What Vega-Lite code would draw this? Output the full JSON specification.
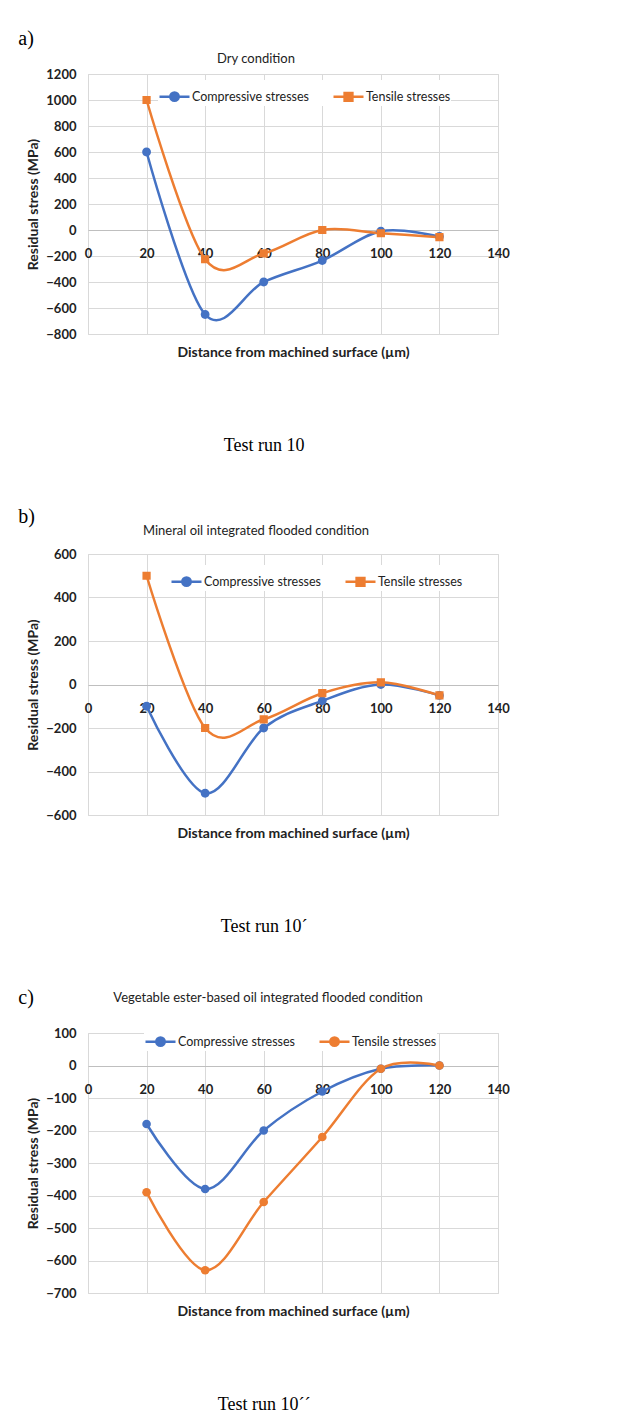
{
  "$schema": "https://vega.github.io/schema/vega-lite/v6.json",
  "padding": {"top": 28, "left": 18, "right": 0, "bottom": 0},
  "background": "white",
  "spacing": 51,
  "resolve": {"scale": {"color": "independent", "shape": "independent"}},
  "datasets": {
    "a": [
      {"d": 20, "v": 600, "s": "Compressive stresses"},
      {"d": 40, "v": -650, "s": "Compressive stresses"},
      {"d": 60, "v": -400, "s": "Compressive stresses"},
      {"d": 80, "v": -235, "s": "Compressive stresses"},
      {"d": 100, "v": -10, "s": "Compressive stresses"},
      {"d": 120, "v": -50, "s": "Compressive stresses"},
      {"d": 20, "v": 1000, "s": "Tensile stresses"},
      {"d": 40, "v": -225, "s": "Tensile stresses"},
      {"d": 60, "v": -180, "s": "Tensile stresses"},
      {"d": 80, "v": 0, "s": "Tensile stresses"},
      {"d": 100, "v": -25, "s": "Tensile stresses"},
      {"d": 120, "v": -55, "s": "Tensile stresses"}
    ],
    "b": [
      {"d": 20, "v": -100, "s": "Compressive stresses"},
      {"d": 40, "v": -500, "s": "Compressive stresses"},
      {"d": 60, "v": -200, "s": "Compressive stresses"},
      {"d": 80, "v": -75, "s": "Compressive stresses"},
      {"d": 100, "v": 0, "s": "Compressive stresses"},
      {"d": 120, "v": -50, "s": "Compressive stresses"},
      {"d": 20, "v": 500, "s": "Tensile stresses"},
      {"d": 40, "v": -200, "s": "Tensile stresses"},
      {"d": 60, "v": -160, "s": "Tensile stresses"},
      {"d": 80, "v": -40, "s": "Tensile stresses"},
      {"d": 100, "v": 10, "s": "Tensile stresses"},
      {"d": 120, "v": -50, "s": "Tensile stresses"}
    ],
    "c": [
      {"d": 20, "v": -180, "s": "Compressive stresses"},
      {"d": 40, "v": -380, "s": "Compressive stresses"},
      {"d": 60, "v": -200, "s": "Compressive stresses"},
      {"d": 80, "v": -80, "s": "Compressive stresses"},
      {"d": 100, "v": -10, "s": "Compressive stresses"},
      {"d": 120, "v": 0, "s": "Compressive stresses"},
      {"d": 20, "v": -390, "s": "Tensile stresses"},
      {"d": 40, "v": -630, "s": "Tensile stresses"},
      {"d": 60, "v": -420, "s": "Tensile stresses"},
      {"d": 80, "v": -220, "s": "Tensile stresses"},
      {"d": 100, "v": -10, "s": "Tensile stresses"},
      {"d": 120, "v": 0, "s": "Tensile stresses"}
    ]
  },
  "vconcat": [
    {
      "title": {"text": "Test run 10", "orient": "bottom", "anchor": "middle", "font": "Liberation Serif", "fontSize": 18, "fontWeight": "normal", "color": "black", "offset": 77},
      "vconcat": [
        {
          "title": {"text": "a)", "anchor": "start", "font": "Liberation Serif", "fontSize": 20, "fontWeight": "normal", "color": "black", "dx": -8, "offset": 4},
          "vconcat": [
            {
              "width": 410, "height": 260,
              "title": {"text": "Dry condition", "font": "Lato", "fontSize": 13, "fontWeight": "normal", "color": "#222", "dx": -37, "offset": 2},
              "data": {"name": "a"},
              "encoding": {
                "x": {"field": "d", "type": "quantitative", "scale": {"domain": [0, 140], "nice": false},
                      "axis": {"values": [0, 20, 40, 60, 80, 100, 120, 140], "title": "Distance from  machined surface (µm)", "labelPadding": -87, "titleY": 18, "titleBaseline": "middle"}},
                "y": {"field": "v", "type": "quantitative", "scale": {"domain": [-800, 1200], "nice": false},
                      "axis": {"values": [-800, -600, -400, -200, 0, 200, 400, 600, 800, 1000, 1200], "format": "d", "title": "Residual stress (MPa)", "labelPadding": 12, "titlePadding": 5,
                               "gridColor": {"condition": {"test": "datum.value === 0", "value": "#bfbfbf"}, "value": "#d9d9d9"}}},
                "color": {"field": "s", "type": "nominal", "scale": {"domain": ["Compressive stresses", "Tensile stresses"], "range": ["#4472C4", "#ED7D31"]},
                          "legend": {"orient": "none", "legendX": 70, "legendY": 6, "direction": "horizontal", "title": null, "fillColor": "white", "labelFont": "Lato", "labelFontSize": 12.5, "labelColor": "#222", "symbolSize": 900, "symbolStrokeWidth": 2.5, "labelOffset": 1, "columnPadding": 18}}
              },
              "layer": [
                {"mark": {"type": "line", "interpolate": "cardinal", "strokeWidth": 2.5}},
                {"mark": {"type": "point", "filled": true, "opacity": 1, "size": 1000},
                 "encoding": {"shape": {"field": "s", "type": "nominal", "scale": {"domain": ["Compressive stresses", "Tensile stresses"], "range": ["M-1,0L1,0M-0.28,0A0.28,0.28,0,1,1,0.28,0A0.28,0.28,0,1,1,-0.28,0Z", "M-1,0L1,0M-0.26,-0.26L0.26,-0.26L0.26,0.26L-0.26,0.26Z"]}, "legend": null}}}
              ]
            }
          ]
        }
      ]
    },
    {
      "title": {"text": "Test run 10´", "orient": "bottom", "anchor": "middle", "font": "Liberation Serif", "fontSize": 18, "fontWeight": "normal", "color": "black", "offset": 77},
      "vconcat": [
        {
          "title": {"text": "b)", "anchor": "start", "font": "Liberation Serif", "fontSize": 20, "fontWeight": "normal", "color": "black", "dx": -8, "offset": -2},
          "vconcat": [
            {
              "width": 410, "height": 261,
              "title": {"text": "Mineral oil integrated flooded condition", "font": "Lato", "fontSize": 13, "fontWeight": "normal", "color": "#222", "dx": -37, "offset": 10},
              "data": {"name": "b"},
              "encoding": {
                "x": {"field": "d", "type": "quantitative", "scale": {"domain": [0, 140], "nice": false},
                      "axis": {"values": [0, 20, 40, 60, 80, 100, 120, 140], "title": "Distance from  machined surface (µm)", "labelPadding": -113, "titleY": 18, "titleBaseline": "middle"}},
                "y": {"field": "v", "type": "quantitative", "scale": {"domain": [-600, 600], "nice": false},
                      "axis": {"values": [-600, -400, -200, 0, 200, 400, 600], "format": "d", "title": "Residual stress (MPa)", "labelPadding": 12, "titlePadding": 5,
                               "gridColor": {"condition": {"test": "datum.value === 0", "value": "#bfbfbf"}, "value": "#d9d9d9"}}},
                "color": {"field": "s", "type": "nominal", "scale": {"domain": ["Compressive stresses", "Tensile stresses"], "range": ["#4472C4", "#ED7D31"]},
                          "legend": {"orient": "none", "legendX": 82, "legendY": 11, "direction": "horizontal", "title": null, "fillColor": "white", "labelFont": "Lato", "labelFontSize": 12.5, "labelColor": "#222", "symbolSize": 900, "symbolStrokeWidth": 2.5, "labelOffset": 1, "columnPadding": 18}}
              },
              "layer": [
                {"mark": {"type": "line", "interpolate": "cardinal", "strokeWidth": 2.5}},
                {"mark": {"type": "point", "filled": true, "opacity": 1, "size": 1000},
                 "encoding": {"shape": {"field": "s", "type": "nominal", "scale": {"domain": ["Compressive stresses", "Tensile stresses"], "range": ["M-1,0L1,0M-0.28,0A0.28,0.28,0,1,1,0.28,0A0.28,0.28,0,1,1,-0.28,0Z", "M-1,0L1,0M-0.26,-0.26L0.26,-0.26L0.26,0.26L-0.26,0.26Z"]}, "legend": null}}}
              ]
            }
          ]
        }
      ]
    },
    {
      "title": {"text": "Test run 10´´", "orient": "bottom", "anchor": "middle", "font": "Liberation Serif", "fontSize": 18, "fontWeight": "normal", "color": "black", "offset": 77},
      "vconcat": [
        {
          "title": {"text": "c)", "anchor": "start", "font": "Liberation Serif", "fontSize": 20, "fontWeight": "normal", "color": "black", "dx": -8, "offset": -16},
          "vconcat": [
            {
              "width": 410, "height": 260,
              "title": {"text": "Vegetable ester-based oil integrated flooded condition", "font": "Lato", "fontSize": 13, "fontWeight": "normal", "color": "#222", "dx": -25, "offset": 22},
              "data": {"name": "c"},
              "encoding": {
                "x": {"field": "d", "type": "quantitative", "scale": {"domain": [0, 140], "nice": false},
                      "axis": {"values": [0, 20, 40, 60, 80, 100, 120, 140], "title": "Distance from  machined surface (µm)", "labelPadding": -210, "titleY": 18, "titleBaseline": "middle"}},
                "y": {"field": "v", "type": "quantitative", "scale": {"domain": [-700, 100], "nice": false},
                      "axis": {"values": [-700, -600, -500, -400, -300, -200, -100, 0, 100], "format": "d", "title": "Residual stress (MPa)", "labelPadding": 12, "titlePadding": 5,
                               "gridColor": {"condition": {"test": "datum.value === 0", "value": "#bfbfbf"}, "value": "#d9d9d9"}}},
                "color": {"field": "s", "type": "nominal", "scale": {"domain": ["Compressive stresses", "Tensile stresses"], "range": ["#4472C4", "#ED7D31"]},
                          "legend": {"orient": "none", "legendX": 56, "legendY": -8, "direction": "horizontal", "title": null, "fillColor": "white", "labelFont": "Lato", "labelFontSize": 12.5, "labelColor": "#222", "symbolSize": 900, "symbolStrokeWidth": 2.5, "labelOffset": 1, "columnPadding": 18,
                                     "symbolType": "M-1,0L1,0M-0.28,0A0.28,0.28,0,1,1,0.28,0A0.28,0.28,0,1,1,-0.28,0Z"}}
              },
              "layer": [
                {"mark": {"type": "line", "interpolate": "cardinal", "strokeWidth": 2.5}},
                {"mark": {"type": "point", "filled": true, "opacity": 1, "size": 75, "shape": "circle"}}
              ]
            }
          ]
        }
      ]
    }
  ],
  "config": {
    "view": {"stroke": "#d9d9d9"},
    "axis": {"labelFont": "Lato", "labelFontSize": 13, "labelFontWeight": "bold", "labelColor": "#222", "titleFont": "Lato", "titleFontSize": 14, "titleFontWeight": "bold", "titleColor": "#222", "ticks": false, "tickSize": 0, "domain": false, "gridColor": "#d9d9d9", "gridWidth": 1},
    "axisX": {"labelFlush": false},
    "axisY": {"labelFlush": false}
  }
}
